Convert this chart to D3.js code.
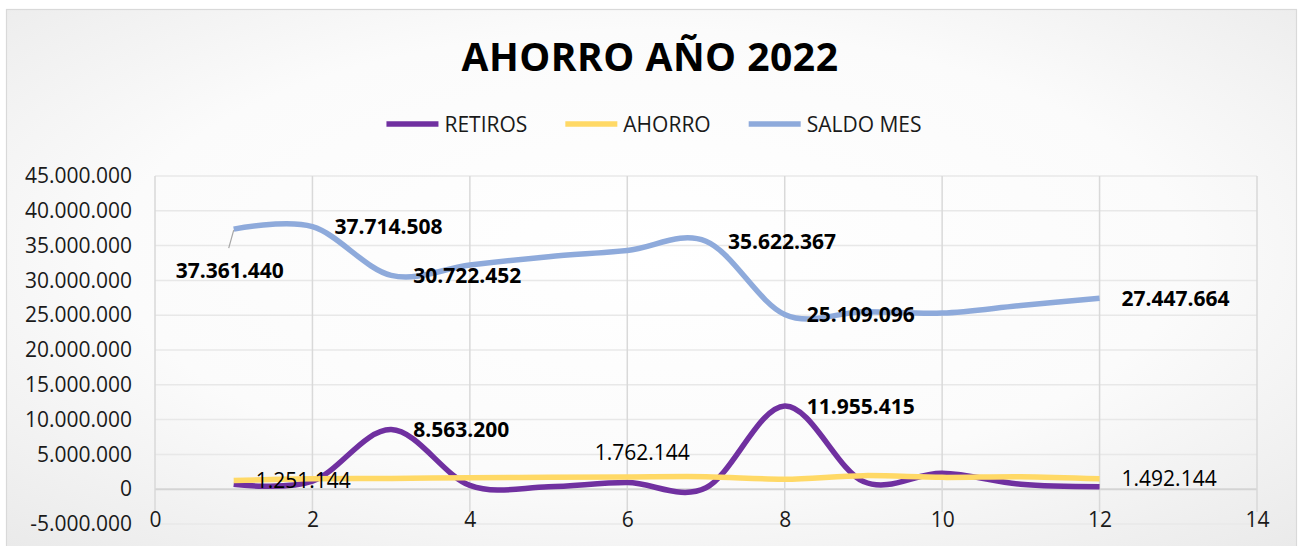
<!DOCTYPE html>
<html>
<head>
<meta charset="utf-8">
<script src="https://cdn.jsdelivr.net/npm/d3@7"></script>
<style>
  html, body { margin: 0; padding: 0; background: #fff; }
  svg { display: block; font-family: "Open Sans", sans-serif; }
</style>
</head>
<body>
<svg id="chart" width="1299" height="546"></svg>
<script>
// Data
const months = [1, 2, 3, 4, 5, 6, 7, 8, 9, 10, 11, 12];
const retiros = [700000, 1150000, 8563200, 550000, 350000, 950000, 200000, 11955415, 1100000, 2300000, 700000, 350000];
const ahorro = [1251144, 1500000, 1550000, 1650000, 1700000, 1762144, 1800000, 1442000, 1950000, 1700000, 1800000, 1492144];
const saldoMes = [37361440, 37714508, 30722452, 32200000, 33400000, 34300000, 35622367, 25109096, 25500000, 25300000, 26400000, 27447664];

const seriesNames = ["RETIROS", "AHORRO", "SALDO MES"];
const xTicks = [0, 2, 4, 6, 8, 10, 12, 14];
const yTicks = [-5000000, 0, 5000000, 10000000, 15000000, 20000000, 25000000, 30000000, 35000000, 40000000, 45000000];

// months that carry a data label, per series
const retirosLabelled = [3, 8];
const ahorroLabelled = [1, 6, 12];
const saldoLabelled = [1, 2, 3, 7, 8, 12];

const colors = ["#7030a0", "#ffd966", "#8eaadb"];
const series = [
    { name: seriesNames[0], values: retiros, color: colors[0], labelled: retirosLabelled, bold: true },
    { name: seriesNames[1], values: ahorro, color: colors[1], labelled: ahorroLabelled, bold: false },
    { name: seriesNames[2], values: saldoMes, color: colors[2], labelled: saldoLabelled, bold: true }
];

const svg = d3.select("#chart");

const locale = d3.formatLocale({ decimal: ",", thousands: ".", grouping: [3], currency: ["$", ""], minus: "-" });
const fmt = locale.format(",.0f");

// background gradient
const defs = svg.append("defs");
const grad = defs.append("radialGradient")
    .attr("id", "bg")
    .attr("cx", "50%").attr("cy", "45%").attr("r", "75%");
grad.append("stop").attr("offset", "0%").attr("stop-color", "#ffffff");
grad.append("stop").attr("offset", "55%").attr("stop-color", "#fbfbfb");
grad.append("stop").attr("offset", "100%").attr("stop-color", "#e9e9e9");

svg.append("rect")
    .attr("x", 6.5).attr("y", 9.5)
    .attr("width", 1290).attr("height", 545)
    .attr("fill", "url(#bg)")
    .attr("stroke", "#d9d9d9")
    .attr("stroke-width", 1.2);

// scales
const x = d3.scaleLinear().domain([0, 14]).range([155, 1257]);
const y = d3.scaleLinear().domain([-5000000, 45000000]).range([524, 176]);

// gridlines
svg.append("g")
    .selectAll("line")
    .data(yTicks)
    .join("line")
    .attr("x1", x(0)).attr("x2", x(14))
    .attr("y1", d => y(d)).attr("y2", d => y(d))
    .attr("stroke", d => d === 0 ? "#d4d4d4" : "#e8e8e8")
    .attr("stroke-width", d => d === 0 ? 2 : 1.5);

svg.append("g")
    .selectAll("line")
    .data(xTicks)
    .join("line")
    .attr("x1", d => x(d)).attr("x2", d => x(d))
    .attr("y1", y(45000000)).attr("y2", y(-5000000) - 12)
    .attr("stroke", "#d9d9d9")
    .attr("stroke-width", 1.5);

// axes
const yAxis = svg.append("g")
    .attr("transform", `translate(${x(0)},0)`)
    .call(d3.axisLeft(y).tickValues(yTicks).tickSize(0).tickPadding(23).tickFormat(d => fmt(d)));
const xAxis = svg.append("g")
    .attr("transform", `translate(0,${y(-5000000) - 12})`)
    .call(d3.axisBottom(x).tickValues(xTicks).tickSize(0).tickPadding(0));
[yAxis, xAxis].forEach(g => {
    g.select(".domain").remove();
    g.selectAll("text")
        .attr("fill", "#1a1a1a")
        .style("font-size", "21px")
        .style("font-family", "'Open Sans', sans-serif");
});

// lines
const line = d3.line()
    .x((d, i) => x(months[i]))
    .y(d => y(d))
    .curve(d3.curveCatmullRom.alpha(0));

series.forEach(s => {
    svg.append("path")
        .datum(s.values)
        .attr("fill", "none")
        .attr("stroke", s.color)
        .attr("stroke-width", 5.5)
        .attr("stroke-linejoin", "round")
        .attr("d", line);
});

// data labels
series.forEach(s => {
    s.labelled.forEach(m => {
        const i = months.indexOf(m);
        const v = s.values[i];
        const px = x(m), py = y(v);
        let lx = px + 22, ly = py, anchor = "start";
        if (s.name === "SALDO MES" && m === 1) {
            lx = px - 4; ly = py + 41; anchor = "middle";
            svg.append("line")
                .attr("x1", px).attr("y1", py + 1)
                .attr("x2", px - 5).attr("y2", py + 19)
                .attr("stroke", "#a6a6a6")
                .attr("stroke-width", 1.2);
        }
        if (s.name === "AHORRO" && m === 6) {
            lx = px + 15; ly = py - 24; anchor = "middle";
        }
        svg.append("text")
            .attr("x", lx).attr("y", ly)
            .attr("dy", "0.36em")
            .attr("text-anchor", anchor)
            .attr("fill", "#000")
            .style("font-size", "21px")
            .style("font-weight", s.bold ? 700 : 400)
            .text(fmt(v));
    });
});

// title
svg.append("text")
    .attr("x", 650).attr("y", 71)
    .attr("text-anchor", "middle")
    .attr("fill", "#000")
    .style("font-size", "39px")
    .style("font-weight", 700)
    .style("letter-spacing", "0.5px")
    .text("AHORRO AÑO 2022");

// legend
const legend = svg.append("g");
let cx = 0;
series.forEach((s, k) => {
    const item = legend.append("g").attr("transform", `translate(${cx},0)`);
    item.append("line")
        .attr("x1", 0).attr("x2", 52)
        .attr("y1", 0).attr("y2", 0)
        .attr("stroke", s.color)
        .attr("stroke-width", 5.5);
    const t = item.append("text")
        .attr("x", 58).attr("y", 0)
        .attr("dy", "0.36em")
        .attr("fill", "#1a1a1a")
        .style("font-size", "21px")
        .text(s.name);
    cx += 58 + t.node().getComputedTextLength() + 38;
});
const legendWidth = cx - 38;
legend.attr("transform", `translate(${654 - legendWidth / 2},124)`);
</script>
</body>
</html>
